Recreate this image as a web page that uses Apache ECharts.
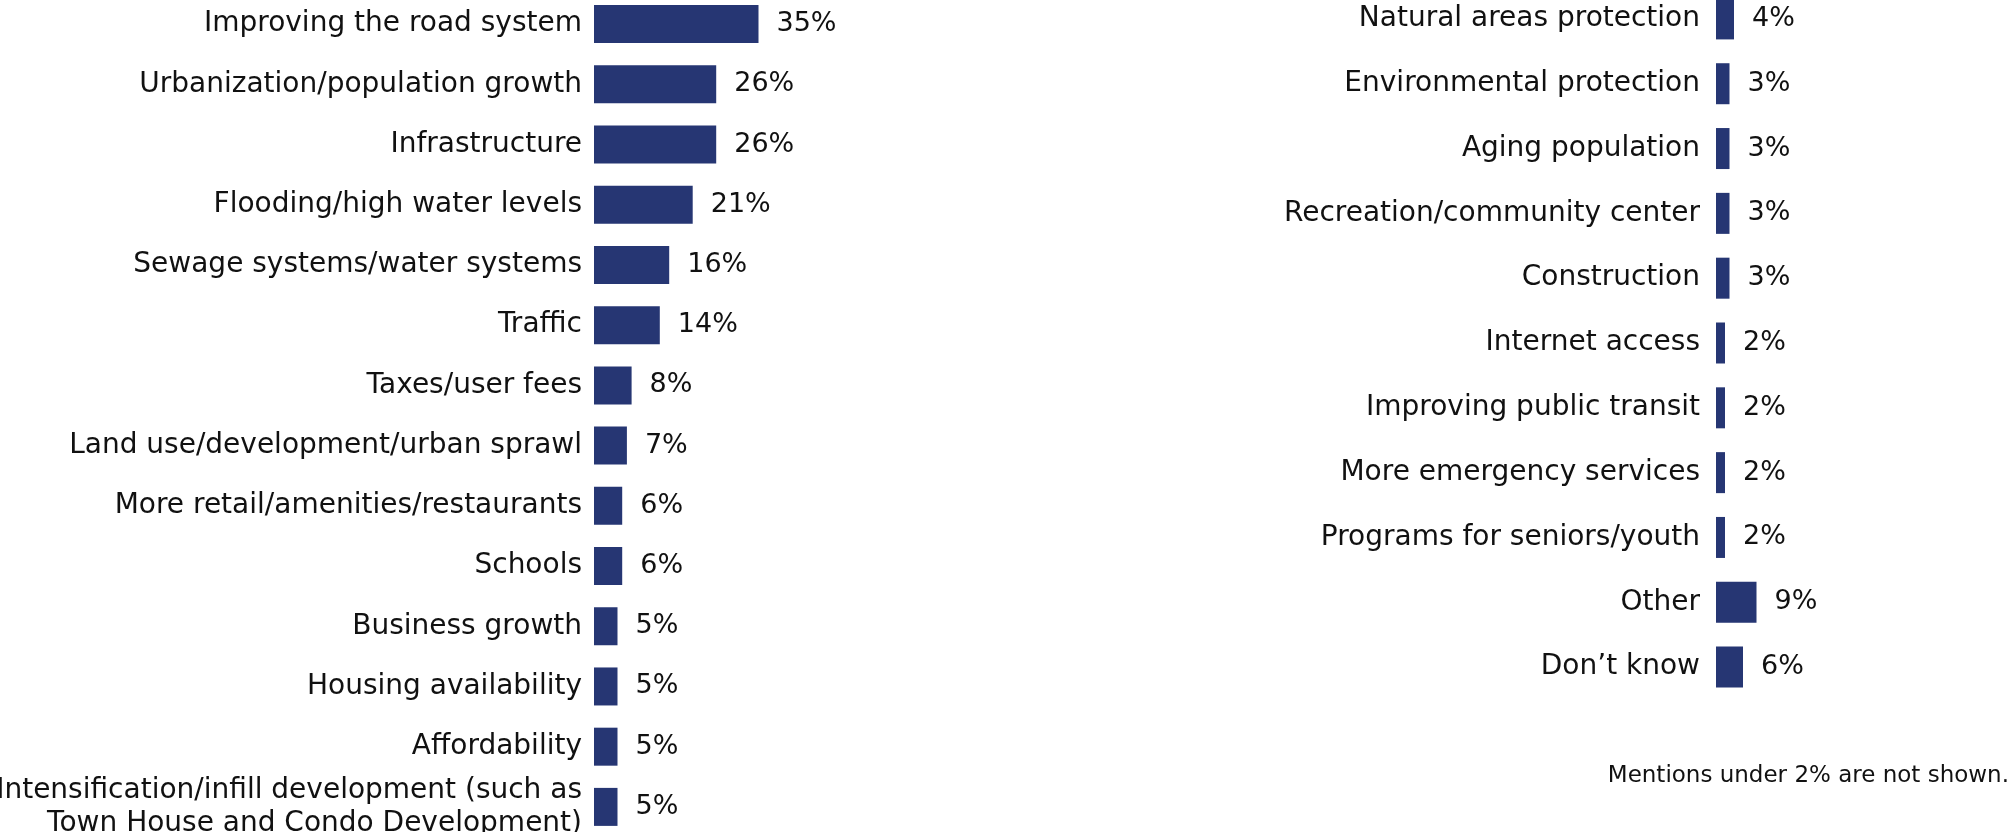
<!DOCTYPE html>
<html>
<head>
<meta charset="utf-8">
<script src="https://cdn.jsdelivr.net/npm/echarts@6/dist/echarts.min.js"></script>
<style>
  html, body { margin: 0; padding: 0; background: #ffffff; }
  #chart { width: 2016px; height: 832px; }
</style>
</head>
<body>
<div id="chart"></div>
<script>
// Left column of issues (percent of mentions)
const leftCategories = [
  'Improving the road system',
  'Urbanization/population growth',
  'Infrastructure',
  'Flooding/high water levels',
  'Sewage systems/water systems',
  'Traffic',
  'Taxes/user fees',
  'Land use/development/urban sprawl',
  'More retail/amenities/restaurants',
  'Schools',
  'Business growth',
  'Housing availability',
  'Affordability',
  'Intensification/infill development (such as\nTown House and Condo Development)'
];
const leftValues = [35, 26, 26, 21, 16, 14, 8, 7, 6, 6, 5, 5, 5, 5];

// Right column of issues
const rightCategories = [
  'Natural areas protection',
  'Environmental protection',
  'Aging population',
  'Recreation/community center',
  'Construction',
  'Internet access',
  'Improving public transit',
  'More emergency services',
  'Programs for seniors/youth',
  'Other',
  'Don\u2019t know'
];
const rightValues = [4, 3, 3, 3, 3, 2, 2, 2, 2, 9, 6];

const footnote = 'Mentions under 2% are not shown.';

const FONT = '"DejaVu Sans", sans-serif';
const BAR_COLOR = '#263673';
const TEXT_COLOR = '#111111';

const chart = echarts.init(document.getElementById('chart'), null, { renderer: 'canvas' });

// Two-line labels sit a little higher than their bar
function axisData(names) {
  return names.map(function (name) {
    if (name.indexOf('\n') >= 0) {
      return { value: name, textStyle: { padding: [0, 0, 12, 0] } };
    }
    return name;
  });
}

function categoryAxis(gridIndex, data, margin) {
  return {
    type: 'category',
    gridIndex: gridIndex,
    data: axisData(data),
    inverse: true,
    axisLine: { show: false },
    axisTick: { show: false },
    splitLine: { show: false },
    axisLabel: {
      margin: margin,
      color: TEXT_COLOR,
      fontFamily: FONT,
      fontSize: 28,
      lineHeight: 33,
      align: 'right'
    }
  };
}

function valueAxis(gridIndex) {
  return {
    type: 'value',
    gridIndex: gridIndex,
    min: 0,
    max: 40,
    show: false,
    splitLine: { show: false }
  };
}

function barSeries(index, values, width) {
  return {
    type: 'bar',
    xAxisIndex: index,
    yAxisIndex: index,
    data: values,
    barWidth: width,
    itemStyle: { color: BAR_COLOR },
    label: {
      show: true,
      position: 'right',
      distance: 18,
      formatter: '{c}%',
      color: TEXT_COLOR,
      fontFamily: FONT,
      fontSize: 27
    },
    silent: true,
    animation: false
  };
}

chart.setOption({
  backgroundColor: '#ffffff',
  animation: false,
  grid: [
    { left: 594, top: -6, width: 188, height: 843, outerBoundsMode: 'none', containLabel: false },
    { left: 1716, top: -13.5, width: 180, height: 713, outerBoundsMode: 'none', containLabel: false }
  ],
  xAxis: [valueAxis(0), valueAxis(1)],
  yAxis: [
    categoryAxis(0, leftCategories, 12),
    categoryAxis(1, rightCategories, 16)
  ],
  series: [
    barSeries(0, leftValues, 38),
    barSeries(1, rightValues, 41)
  ],
  graphic: [
    {
      type: 'text',
      right: 7,
      top: 765,
      style: {
        text: footnote,
        fontFamily: FONT,
        fontSize: 23,
        fill: TEXT_COLOR
      }
    }
  ]
});
</script>
</body>
</html>
